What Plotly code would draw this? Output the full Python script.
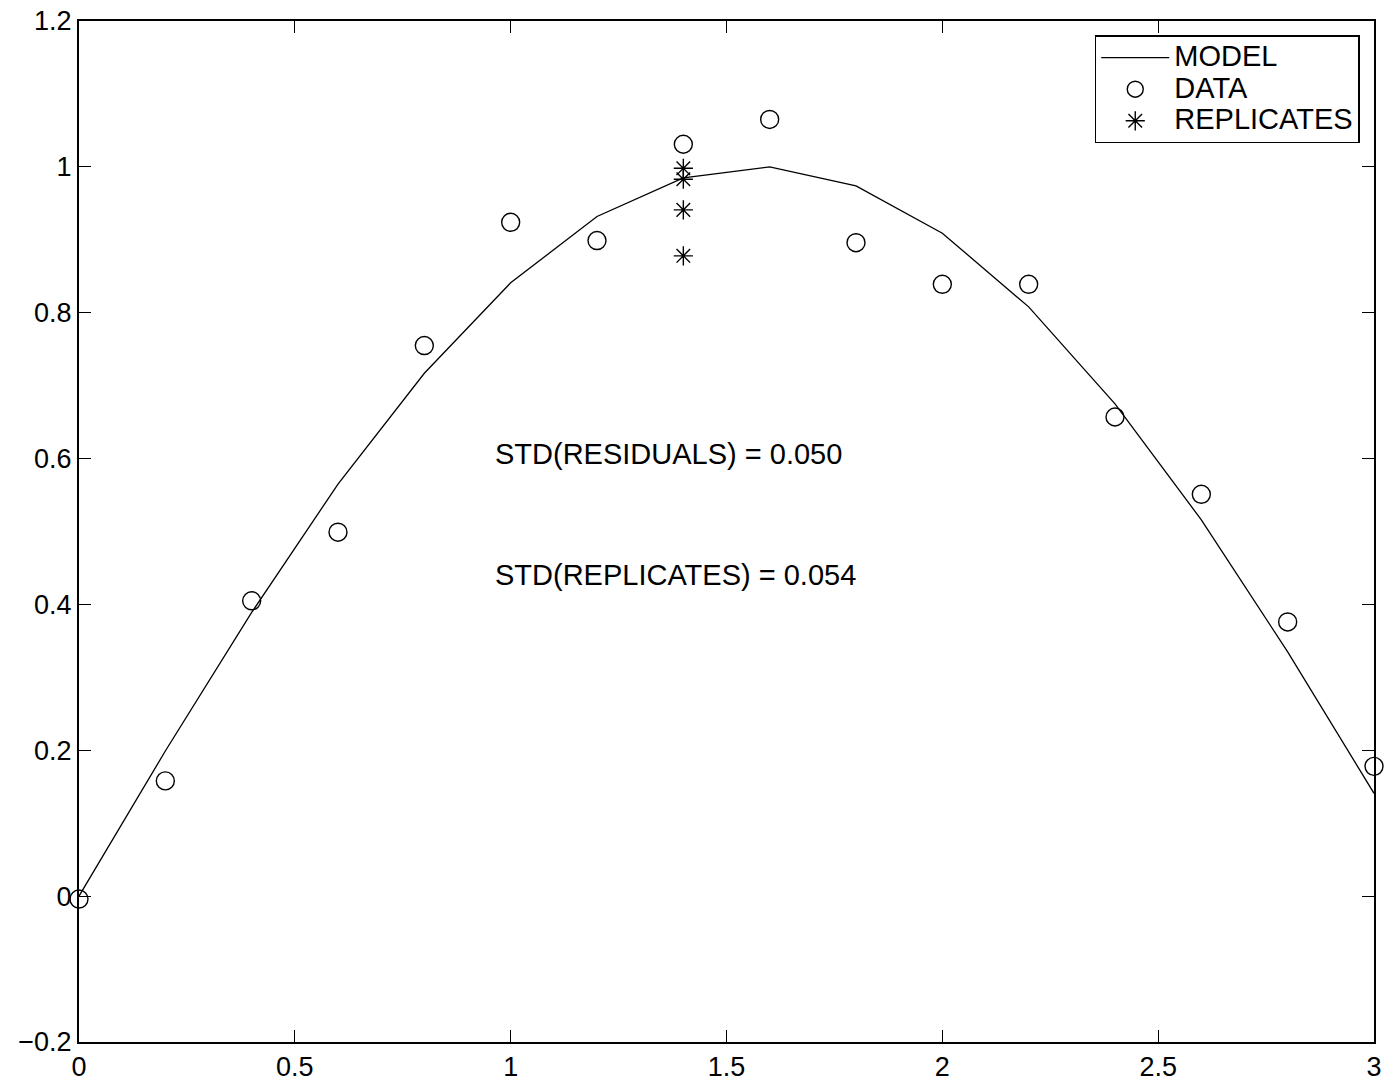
import plotly.graph_objects as go

x_vals = [0.0, 0.2, 0.4, 0.6, 0.8, 1.0, 1.2, 1.4, 1.6, 1.8, 2.0, 2.2, 2.4, 2.6, 2.8, 3.0]
model_vals = [0.0, 0.199, 0.389, 0.565, 0.717, 0.841, 0.932, 0.985, 1.000, 0.974,
              0.909, 0.808, 0.675, 0.516, 0.335, 0.141]
data_vals = [-0.004, 0.158, 0.405, 0.499, 0.755, 0.924, 0.899, 1.031, 1.065, 0.896,
             0.839, 0.839, 0.657, 0.551, 0.376, 0.178]
rep_x = [1.4, 1.4, 1.4, 1.4]
rep_vals = [0.998, 0.983, 0.941, 0.878]
series_names = ["MODEL", "DATA", "REPLICATES"]
annotations_text = ["STD(RESIDUALS) = 0.050", "STD(REPLICATES) = 0.054"]
annotations_pos = [(0.959, 0.606), (0.959, 0.441)]

FONT = "Liberation Sans, Arial, sans-serif"
TEXT_SIZE = 29
TICK_SIZE = 27


def leg(name):
    return "<span style='font-size:%dpx'>%s</span>" % (TEXT_SIZE, name)


fig = go.Figure()
fig.add_trace(go.Scatter(x=x_vals, y=model_vals, mode="lines", name=leg(series_names[0]),
                         line=dict(color="black", width=1.3)))
fig.add_trace(go.Scatter(x=x_vals, y=data_vals, mode="markers", name=leg(series_names[1]),
                         marker=dict(symbol="circle-open", size=18, color="black",
                                     line=dict(width=1.4, color="black")),
                         cliponaxis=False))
fig.add_trace(go.Scatter(x=rep_x, y=rep_vals, mode="markers", name=leg(series_names[2]),
                         marker=dict(symbol="asterisk-open", size=16, color="black",
                                     line=dict(width=1.4, color="black"))))

for txt, (ax, ay) in zip(annotations_text, annotations_pos):
    fig.add_annotation(x=ax, y=ay, text=txt, showarrow=False, xanchor="left",
                       yanchor="middle", font=dict(size=TEXT_SIZE, color="black", family=FONT))

axis_common = dict(showgrid=False, zeroline=False, showline=True, linecolor="black",
                   linewidth=2, mirror="allticks", ticks="inside", ticklen=12,
                   tickcolor="black", tickwidth=1.3, automargin=False,
                   tickfont=dict(size=TICK_SIZE, color="black", family=FONT))

fig.update_xaxes(range=[0, 3], tickvals=[0, 0.5, 1, 1.5, 2, 2.5, 3], **axis_common)
fig.update_yaxes(range=[-0.2, 1.2], tickvals=[-0.2, 0, 0.2, 0.4, 0.6, 0.8, 1, 1.2],
                 **axis_common)

fig.update_layout(
    width=1386, height=1085,
    margin=dict(l=79, r=12, t=21, b=43),
    paper_bgcolor="white", plot_bgcolor="white",
    font=dict(family=FONT, size=24, color="black"),
    showlegend=True,
    legend=dict(x=0.989, y=0.986, xanchor="right", yanchor="top",
                bgcolor="white", bordercolor="black", borderwidth=1.5,
                font=dict(size=22, color="black", family=FONT),
                tracegroupgap=0, itemwidth=68),
)

fig.write_html("out.html")
